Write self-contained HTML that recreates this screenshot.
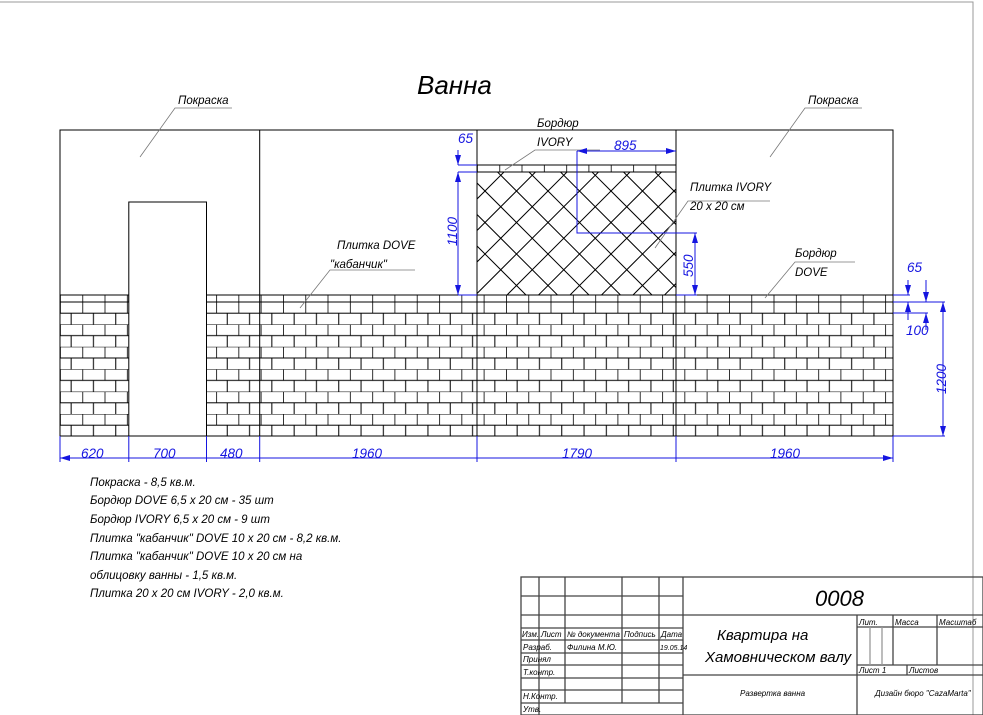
<!DOCTYPE html>
<html><head><meta charset="utf-8"><style>
html,body{margin:0;padding:0;background:#fff;}
svg{display:block;}
text{font-family:"Liberation Sans","DejaVu Sans",sans-serif;font-style:italic;}
.b{fill:#1515e0;font-size:13.5px;}
.k{fill:#000;font-size:11.5px;}
.s{fill:#000;font-size:8px;}
</style></head><body>
<svg width="983" height="715" viewBox="0 0 983 715" xmlns="http://www.w3.org/2000/svg">
<defs>
<pattern id="brick" patternUnits="userSpaceOnUse" x="60" y="302" width="22.3" height="22.4">
<path d="M0 0H22.3M0 11.2H22.3M0.3 0V11.2M11.15 11.2V22.4" stroke="#000" stroke-width="1" fill="none"/>
</pattern>
<pattern id="tick" patternUnits="userSpaceOnUse" x="60" y="295" width="22.3" height="7">
<path d="M0.3 0V7" stroke="#000" stroke-width="1"/>
</pattern>
<pattern id="tick2" patternUnits="userSpaceOnUse" x="477" y="165" width="22.3" height="7">
<path d="M0.3 0V7" stroke="#000" stroke-width="1"/>
</pattern>
<clipPath id="dc"><rect x="477" y="172" width="199" height="123"/></clipPath>
<marker id="ar" viewBox="0 0 10 6" refX="10" refY="3" markerWidth="10" markerHeight="6" orient="auto-start-reverse" markerUnits="userSpaceOnUse"><path d="M0 0L10 3L0 6Z" fill="#1515e0"/></marker>
</defs>
<path d="M0 2H973V715" stroke="#999" fill="none" stroke-width="1"/>
<text x="417" y="94" style="font-size:26px" fill="#000">Ванна</text>
<rect x="60" y="130" width="833" height="306" fill="none" stroke="#000" stroke-width="1"/>
<path d="M259.7 130V436M477 130V436M676 130V436" stroke="#000"/>
<rect x="60" y="302" width="68.8" height="134" fill="url(#brick)"/>
<rect x="206.5" y="302" width="686.5" height="134" fill="url(#brick)"/>
<rect x="60" y="295" width="68.8" height="7" fill="url(#tick)" stroke="#000"/>
<rect x="206.5" y="295" width="686.5" height="7" fill="url(#tick)" stroke="#000"/>
<path d="M60 436H893" stroke="#000"/>
<rect x="128.8" y="202" width="77.7" height="234" fill="#fff" stroke="#000"/>
<rect x="477" y="165" width="199" height="7" fill="url(#tick2)" stroke="#000"/>
<g clip-path="url(#dc)" stroke="#000" stroke-width="1">
<path d="M351 120l240 240M382.5 120l240 240M414 120l240 240M445.5 120l240 240M477 120l240 240M508.5 120l240 240M540 120l240 240M571.5 120l240 240M603 120l240 240M634.5 120l240 240M666 120l240 240M697.5 120l240 240"/>
<path d="M430 120l-240 240M461.5 120l-240 240M493 120l-240 240M524.5 120l-240 240M556 120l-240 240M587.5 120l-240 240M619 120l-240 240M650.5 120l-240 240M682 120l-240 240M713.5 120l-240 240M745 120l-240 240M776.5 120l-240 240M808 120l-240 240M839.5 120l-240 240"/>
</g>
<rect x="477" y="172" width="199" height="123" fill="none" stroke="#000"/>
<g stroke="#777" stroke-width="0.8" fill="none">
<path d="M232 108H175L140 157"/>
<path d="M862 108H805L770 157"/>
<path d="M600 150H535L505 170"/>
<path d="M770 201H688L655 248"/>
<path d="M415 270H330L300 308"/>
<path d="M855 262H795L765 298"/>
</g>
<text class="k" x="178" y="104">Покраска</text>
<text class="k" x="808" y="104">Покраска</text>
<text class="k" x="537" y="127">Бордюр</text>
<text class="k" x="537" y="146">IVORY</text>
<text class="k" x="690" y="191">Плитка IVORY</text>
<text class="k" x="690" y="210">20 x 20 см</text>
<text class="k" x="337" y="249">Плитка DOVE</text>
<text class="k" x="330" y="268">"кабанчик"</text>
<text class="k" x="795" y="257">Бордюр</text>
<text class="k" x="795" y="276">DOVE</text>
<g stroke="#1515e0" stroke-width="1" fill="none">
<path d="M60 436V462M128.8 436V462M206.5 436V462M259.7 436V462M477 436V462M676 436V462M893 436V462"/>
<path d="M60 458H128.8M128.8 458H206.5M206.5 458H259.7M259.7 458H477M477 458H676M676 458H893" marker-start="url(#ar)" marker-end="url(#ar)"/>
<path d="M458 165H477M458 172H477M458 295H477"/>
<path d="M458 150V165" marker-end="url(#ar)"/>
<path d="M458 172V295" marker-start="url(#ar)" marker-end="url(#ar)"/>
<path d="M577 151H676" marker-start="url(#ar)" marker-end="url(#ar)"/>
<path d="M577 151V233H697M676 295H697"/>
<path d="M695 233V295" marker-start="url(#ar)" marker-end="url(#ar)"/>
<path d="M893 295H910M893 302H945M893 313H928M893 436H945"/>
<path d="M908 280V295" marker-end="url(#ar)"/>
<path d="M908 320V302" marker-end="url(#ar)"/>
<path d="M926 280V302" marker-end="url(#ar)"/>
<path d="M926 330V313" marker-end="url(#ar)"/>
<path d="M943 302V436" marker-start="url(#ar)" marker-end="url(#ar)"/>
</g>
<text class="b" x="81" y="458">620</text>
<text class="b" x="153" y="458">700</text>
<text class="b" x="220" y="458">480</text>
<text class="b" x="352" y="458">1960</text>
<text class="b" x="562" y="458">1790</text>
<text class="b" x="770" y="458">1960</text>
<text class="b" x="458" y="143">65</text>
<text class="b" x="614" y="150">895</text>
<text class="b" x="907" y="272">65</text>
<text class="b" x="906" y="335">100</text>
<text class="b" transform="translate(457,246) rotate(-90)">1100</text>
<text class="b" transform="translate(693,277) rotate(-90)">550</text>
<text class="b" transform="translate(946,394) rotate(-90)">1200</text>
<text class="k" x="90" y="486">Покраска  - 8,5  кв.м.</text>
<text class="k" x="90" y="504">Бордюр  DOVE  6,5 x 20  см  - 35  шт</text>
<text class="k" x="90" y="523">Бордюр  IVORY  6,5 x 20  см  - 9  шт</text>
<text class="k" x="90" y="542">Плитка  "кабанчик" DOVE  10 x 20  см  - 8,2  кв.м.</text>
<text class="k" x="90" y="560">Плитка  "кабанчик" DOVE  10 x 20  см на</text>
<text class="k" x="90" y="579">облицовку ванны  - 1,5  кв.м.</text>
<text class="k" x="90" y="597">Плитка  20 x 20  см  IVORY - 2,0  кв.м.</text>
<g stroke="#444" stroke-width="1.3" fill="none">
<rect x="521" y="577" width="462" height="138"/>
<path d="M539 577V715M565 577V703M622 577V703M659 577V703M683 577V715"/>
<path d="M521 596H683M521 615H683M521 628H683M521 640H683M521 653H683M521 665H683M521 678H683M521 690H683M521 703H683"/>
<path d="M683 615H983M857 615V715M857 627H983M857 665H983M683 675H983M893 615V665M937 615V665M907 665V675"/>
<path d="M870 627V665M882 627V665" stroke="#999"/>
</g>
<text x="815" y="606" style="font-size:22px">0008</text>
<text x="717" y="640" style="font-size:15px">Квартира на</text>
<text x="705" y="662" style="font-size:15px">Хамовническом валу</text>
<text class="s" x="522" y="637">Изм.</text>
<text class="s" x="541" y="637">Лист</text>
<text class="s" x="567" y="637">№ документа</text>
<text class="s" x="624" y="637">Подпись</text>
<text class="s" x="661" y="637">Дата</text>
<text class="s" x="523" y="650">Разраб.</text>
<text class="s" x="567" y="650">Филина М.Ю.</text>
<text class="s" x="660" y="650" style="font-size:7px">19.05.14</text>
<text class="s" x="523" y="662">Принял</text>
<text class="s" x="523" y="675">Т.контр.</text>
<text class="s" x="523" y="699">Н.Контр.</text>
<text class="s" x="523" y="712">Утв.</text>
<text class="s" x="859" y="625">Лит.</text>
<text class="s" x="895" y="625">Масса</text>
<text class="s" x="939" y="625">Масштаб</text>
<text class="s" x="859" y="673">Лист 1</text>
<text class="s" x="909" y="673">Листов</text>
<text class="s" x="740" y="696">Развертка ванна</text>
<text class="s" x="875" y="696">Дизайн бюро "CazaMarta"</text>
</svg>
</body></html>
